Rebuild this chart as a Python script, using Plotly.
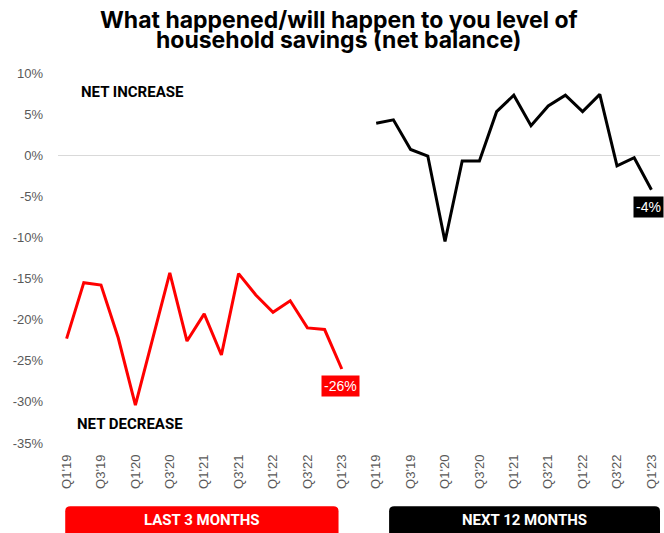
import plotly.graph_objects as go

quarters = ["Q1'19", "Q2'19", "Q3'19", "Q4'19", "Q1'20", "Q2'20", "Q3'20", "Q4'20",
            "Q1'21", "Q2'21", "Q3'21", "Q4'21", "Q1'22", "Q2'22", "Q3'22", "Q4'22", "Q1'23"]
last_3_months = [-22.3, -15.5, -15.8, -22.2, -30.4, -22.3, -14.3, -22.6, -19.3,
                 -24.3, -14.4, -17.0, -19.1, -17.7, -21.0, -21.2, -26.0]
next_12_months = [3.9, 4.3, 0.7, -0.1, -10.5, -0.7, -0.7, 5.3, 7.3,
                  3.6, 6.0, 7.3, 5.3, 7.4, -1.3, -0.3, -4.2]
y_ticks = [10, 5, 0, -5, -10, -15, -20, -25, -30, -35]

n = len(quarters)
x_left = list(range(n))
x_right = [n + 1 + i for i in range(n)]
tick_idx = list(range(0, n, 2))
tickvals = [x_left[i] for i in tick_idx] + [x_right[i] for i in tick_idx]
ticktext = [quarters[i] for i in tick_idx] * 2

fig = go.Figure()
fig.add_trace(go.Scatter(x=x_left, y=last_3_months, mode="lines",
                         line=dict(color="#ff0000", width=3), name="Last 3 months",
                         hoverinfo="skip"))
fig.add_trace(go.Scatter(x=x_right, y=next_12_months, mode="lines",
                         line=dict(color="#000000", width=3), name="Next 12 months",
                         hoverinfo="skip"))

lab_font = dict(family="Roboto", size=15, color="black", weight="bold")
title_font = dict(family="Inter", size=23, color="black", weight="bold")
banner_font = dict(family="Roboto", size=15, color="white", weight="bold")
common = dict(showarrow=False, xanchor="center", yanchor="middle")

annotations = [
    dict(x=x_left[-1], y=last_3_months[-1], xref="x", yref="y",
         text=f"{round(last_3_months[-1])}%", yshift=-17, xshift=-1,
         bgcolor="#ff0000", font=dict(family="Liberation Sans", size=14, color="white"),
         borderpad=2, **common),
    dict(x=x_right[-1], y=next_12_months[-1], xref="x", yref="y",
         text=f"{round(next_12_months[-1])}%", yshift=-17, xshift=-3,
         bgcolor="#000000", font=dict(family="Liberation Sans", size=14, color="white"),
         borderpad=2, **common),
    dict(x=0.123, y=0.949, xref="paper", yref="paper", text="NET INCREASE",
         font=lab_font, **common),
    dict(x=0.12, y=0.051, xref="paper", yref="paper", text="NET DECREASE",
         font=lab_font, **common),
    dict(x=0.466, y=1.143, xref="paper", yref="paper",
         text="What happened/will happen to you level of", font=title_font, **common),
    dict(x=0.466, y=1.090, xref="paper", yref="paper",
         text="household savings (net balance)", font=title_font, **common),
    dict(x=(0.012 + 0.466) / 2, y=-0.208, xref="paper", yref="paper", text="LAST 3 MONTHS",
         font=banner_font, **common),
    dict(x=(0.550 + 1.0) / 2, y=-0.208, xref="paper", yref="paper", text="NEXT 12 MONTHS",
         font=banner_font, **common),
]


def rounded_top(x0, x1, y0, y1, rx=5 / 602, ry=5 / 370):
    return (f"M {x0},{y0} L {x0},{y1 - ry} Q {x0},{y1} {x0 + rx},{y1} "
            f"L {x1 - rx},{y1} Q {x1},{y1} {x1},{y1 - ry} L {x1},{y0} Z")


shapes = [
    dict(type="path", xref="paper", yref="paper", path=rounded_top(0.012, 0.466, -0.29, -0.171),
         fillcolor="#ff0000", line=dict(width=0), layer="below"),
    dict(type="path", xref="paper", yref="paper", path=rounded_top(0.550, 1.0, -0.29, -0.171),
         fillcolor="#000000", line=dict(width=0), layer="below"),
]

fig.update_layout(
    width=664, height=533,
    margin=dict(l=58, r=4, t=73, b=90),
    plot_bgcolor="white", paper_bgcolor="white",
    showlegend=False,
    annotations=annotations,
    shapes=shapes,
    xaxis=dict(range=[-0.5, 2 * n + 0.5], tickvals=tickvals, ticktext=ticktext,
               tickangle=-90, showgrid=False, zeroline=False, showline=False,
               tickfont=dict(family="Liberation Sans", size=13, color="#595959"),
               ticklabelstandoff=8),
    yaxis=dict(range=[-35, 10], tickvals=y_ticks, ticktext=[f"{v}%" for v in y_ticks],
               showgrid=False, zeroline=True, zerolinecolor="#d9d9d9", zerolinewidth=1,
               showline=False,
               tickfont=dict(family="Liberation Sans", size=13, color="#595959"),
               ticklabelstandoff=14),
)

fig.write_html("out.html")
